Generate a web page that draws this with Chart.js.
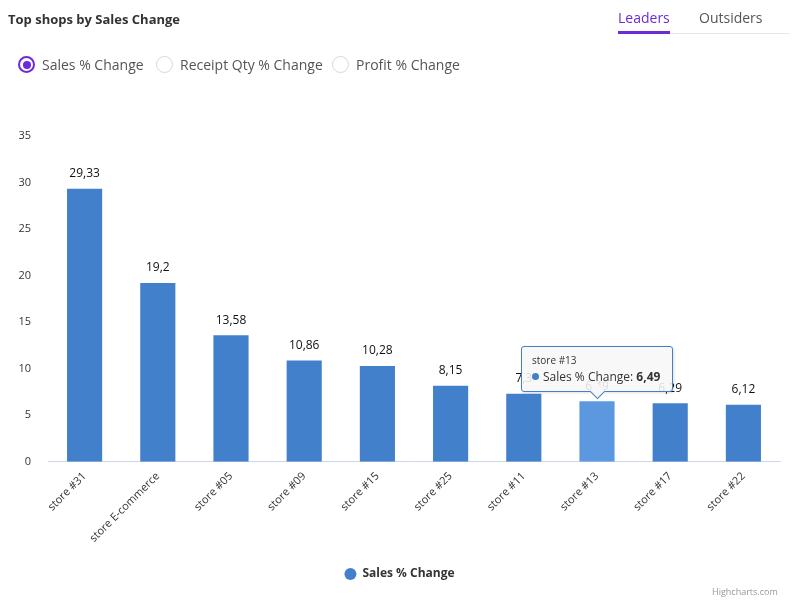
<!DOCTYPE html>
<html>
<head>
<meta charset="utf-8">
<script src="https://cdn.jsdelivr.net/npm/chart.js"></script>
<style>
  body { margin: 0; background: #fff; font-family: "Open Sans", sans-serif; }
  .wrap { position: relative; width: 799px; height: 609px; overflow: hidden; }
  canvas { position: absolute; left: 0; top: 0; }
  .title { position: absolute; left: 8px; top: 10px; font-size: 13px; font-weight: bold; color: #333; }
  .tabs { position: absolute; left: 618px; top: 8px; width: 172px; height: 25px; border-bottom: 1px solid #e8e8e8; }
  .tab { position: absolute; top: 0; font-size: 14px; color: #555; }
  .tab.on { color: #6c2bd9; border-bottom: 3px solid #6c2bd9; height: 23px; }
  .radio { position: absolute; top: 55px; font-size: 14px; color: #555; }
  .radio i { position: absolute; left: -24px; top: 1px; width: 17px; height: 17px; border: 1px solid #d6d6d6; border-radius: 50%; box-sizing: border-box; }
  .radio.on i { border: 2px solid #6c2bd9; }
  .radio.on i:after { content: ""; position: absolute; left: 2.5px; top: 2.5px; width: 8px; height: 8px; border-radius: 50%; background: #6c2bd9; }
  .credits { position: absolute; left: 712px; top: 585px; font-size: 9px; color: #999; }
  #tip { position: absolute; display: none; background: rgba(247,247,247,0.88); border: 1px solid #4380cb; border-radius: 3px; padding: 6px 12px 6px 10px; white-space: nowrap; color: #333; box-shadow: 1px 1px 3px rgba(0,0,0,0.12); }
  #tip .t { font-size: 10px; margin-bottom: 1px; }
  #tip .b { font-size: 12px; }
  #tip .dot { display: inline-block; width: 7px; height: 7px; border-radius: 50%; background: #4380cb; margin-right: 4px; vertical-align: 1px; }
  #tip:after { content: ""; position: absolute; left: 50%; bottom: -6px; width: 10px; height: 10px; margin-left: -5px; background: rgb(247,247,247); border-right: 1px solid #4380cb; border-bottom: 1px solid #4380cb; transform: rotate(45deg); }
</style>
</head>
<body>
<div class="wrap">
  <canvas id="chart" width="799" height="609"></canvas>
  <div class="title">Top shops by Sales Change</div>
  <div class="tabs">
    <span class="tab on" style="left:0">Leaders</span>
    <span class="tab" style="left:81px">Outsiders</span>
  </div>
  <div class="radio on" style="left:42px"><i></i>Sales % Change</div>
  <div class="radio" style="left:180px"><i></i>Receipt Qty % Change</div>
  <div class="radio" style="left:356px"><i></i>Profit % Change</div>
  <div class="credits">Highcharts.com</div>
  <div id="tip"></div>
</div>
<script>
// data
const stores = ['store #31', 'store E-commerce', 'store #05', 'store #09', 'store #15',
                'store #25', 'store #11', 'store #13', 'store #17', 'store #22'];
const salesChange = [29.33, 19.2, 13.58, 10.86, 10.28, 8.15, 7.3, 6.49, 6.29, 6.12];
const yTicks = [0, 5, 10, 15, 20, 25, 30, 35];
const seriesName = 'Sales % Change';
const hoverIndex = 7;

const barColor = '#4380cb';
const fontFam = '"Open Sans", sans-serif';

// comma decimals like the original
const fmt = v => String(v).replace('.', ',');

// labels above the bars
const valueLabels = {
  id: 'valueLabels',
  afterDatasetsDraw(chart) {
    const ctx = chart.ctx;
    const meta = chart.getDatasetMeta(0);
    ctx.save();
    ctx.font = '12px ' + fontFam;
    ctx.textAlign = 'center';
    ctx.textBaseline = 'middle';
    meta.data.forEach((bar, i) => {
      ctx.lineWidth = 3;
      ctx.strokeStyle = '#fff';
      ctx.strokeText(fmt(salesChange[i]), bar.x, bar.y - 15);
      ctx.fillStyle = '#111';
      ctx.fillText(fmt(salesChange[i]), bar.x, bar.y - 15);
    });
    ctx.restore();
  }
};

function htmlTooltip(context) {
  const { chart, tooltip } = context;
  const el = document.getElementById('tip');
  if (tooltip.opacity === 0 || !tooltip.dataPoints || !tooltip.dataPoints.length) { el.style.display = 'none'; return; }
  const i = tooltip.dataPoints[0].dataIndex;
  el.innerHTML = '<div class="t">' + stores[i] + '</div><div class="b"><span class="dot"></span>' +
    seriesName + ': <b>' + fmt(salesChange[i]) + '</b></div>';
  el.style.display = 'block';
  el.style.left = (tooltip.caretX - el.offsetWidth / 2) + 'px';
  el.style.top = (tooltip.caretY - el.offsetHeight - 9) + 'px';
}

const chart = new Chart(document.getElementById('chart').getContext('2d'), {
  type: 'bar',
  data: {
    labels: stores,
    datasets: [{
      label: seriesName,
      data: salesChange,
      backgroundColor: barColor,
      hoverBackgroundColor: '#5b98e0',
      borderWidth: 0,
      categoryPercentage: 1,
      barPercentage: 0.48
    }]
  },
  options: {
    responsive: false,
    animation: false,
    events: [],
    layout: { padding: { top: 136, left: 19, right: 19, bottom: 19 } },
    scales: {
      x: {
        grid: { display: false, drawTicks: false },
        border: { display: true, color: '#ccd6eb', width: 1 },
        afterFit: axis => { axis.paddingLeft = 0; axis.paddingRight = 0; },
        ticks: {
          color: '#333', font: { family: fontFam, size: 11 },
          minRotation: 45, maxRotation: 45, padding: 8, autoSkip: false
        }
      },
      y: {
        min: 0, max: 35,
        grid: { display: false, drawTicks: false },
        border: { display: false },
        afterBuildTicks: axis => { axis.ticks = yTicks.map(v => ({ value: v })); },
        afterFit: axis => { axis.width = 29; },
        ticks: { color: '#333', font: { family: fontFam, size: 11 }, padding: 17 }
      }
    },
    plugins: {
      legend: {
        position: 'bottom',
        labels: {
          usePointStyle: true, pointStyle: 'circle', pointStyleWidth: 12, boxHeight: 8.5,
          color: '#333', font: { family: fontFam, size: 12, weight: 'bold' }, padding: 15
        }
      },
      tooltip: { enabled: false, external: htmlTooltip }
    }
  },
  plugins: [valueLabels]
});

const act = [{ datasetIndex: 0, index: hoverIndex }];
chart.setActiveElements(act);
chart.tooltip.setActiveElements(act, { x: 0, y: 0 });
chart.update();
</script>
</body>
</html>
